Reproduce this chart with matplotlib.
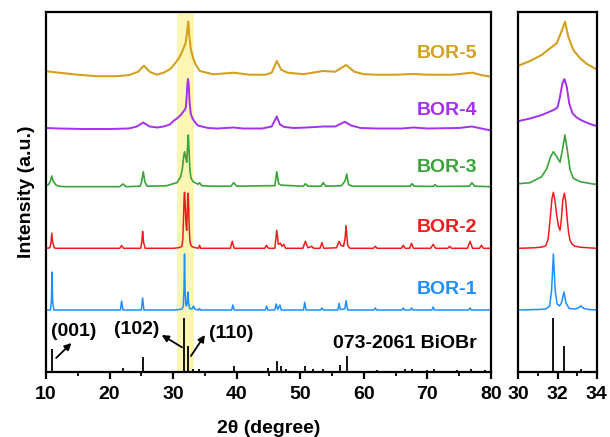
import matplotlib
matplotlib.use("Agg")
import matplotlib.pyplot as plt

plt.rcParams['font.family'] = ['Liberation Sans', 'DejaVu Sans']
plt.rcParams['font.weight'] = 'bold'
plt.rcParams['font.size'] = 14

# ---- data (2theta in degree, intensity in a.u. above each baseline) ----
names = ['BOR-1', 'BOR-2', 'BOR-3', 'BOR-4', 'BOR-5']
colors = ['#1E8FFF', '#F21B1B', '#3AA33A', '#A530F0', '#D4A020']
offsets = [62, 123.7, 185.3, 242.5, 295.3]
widths = [1.1, 1.1, 1.2, 1.4, 1.5]  # noisier patterns look thicker

bor1_x = [10.0, 10.7, 10.85, 10.95, 11.05, 11.25, 21.7, 21.9, 22.1, 25.0, 25.2, 25.4,
          30.0, 31.0, 31.4, 31.6, 31.7, 31.79, 31.88, 31.98, 32.1, 32.2, 32.33, 32.43,
          32.6, 32.9, 33.05, 33.2, 33.35, 33.6, 34.0, 34.15, 34.3, 39.2, 39.4, 39.6,
          44.5, 44.7, 44.9, 46.0, 46.2, 46.45, 46.8, 47.0, 50.5, 50.7, 50.9, 53.2, 53.4,
          53.6, 55.9, 56.1, 56.3, 57.0, 57.2, 57.45, 61.6, 61.8, 62.0, 66.0, 66.2, 66.4,
          67.3, 67.5, 67.7, 70.7, 70.9, 71.1, 76.5, 76.7, 76.9, 80.0]
bor1_y = [0, 0, 8, 38, 8, 0, 0, 9, 0, 0, 12, 0,
          0, 0.5, 1, 4, 20, 56, 20, 6, 4, 7, 18, 7,
          1.5, 1, 2, 4, 1.5, 0.5, 0, 1.5, 0, 0, 5, 0,
          0, 4, 0, 0, 6, 0.5, 5, 0, 0, 7.7, 0, 0, 2,
          0, 0, 6.7, 0.5, 1, 9.3, 0, 0, 2, 0, 0, 2, 0,
          0, 2, 0, 0, 3, 0, 0, 2, 0, 0]

bor2_x = [10.0, 10.6, 10.8, 10.9, 11.05, 11.3, 11.6, 21.6, 21.9, 22.2, 24.9, 25.1, 25.2,
          25.35, 25.6, 30.0, 30.8, 31.2, 31.4, 31.52, 31.62, 31.72, 31.79, 31.87, 31.96,
          32.05, 32.13, 32.2, 32.27, 32.35, 32.42, 32.5, 32.57, 32.64, 32.75, 32.9, 33.2,
          33.6, 34.0, 34.15, 34.35, 39.0, 39.3, 39.6, 44.4, 44.7, 45.0, 46.0, 46.3, 46.55,
          46.9, 47.1, 47.4, 47.7, 50.4, 50.8, 51.2, 51.8, 52.1, 53.1, 53.4, 53.7, 55.7,
          56.1, 56.4, 56.8, 57.05, 57.2, 57.45, 57.8, 61.5, 61.8, 62.1, 65.9, 66.2, 66.5,
          67.2, 67.5, 67.8, 70.5, 70.9, 71.3, 73.2, 73.5, 73.8, 76.3, 76.7, 77.1, 78.2,
          78.5, 78.8, 80.0]
bor2_y = [0, 0.5, 6, 15, 6, 0.5, 0, 0, 2.7, 0, 0, 8, 17,
          6, 0, 0, 0.5, 1.2, 2.5, 9, 28, 50, 56, 48, 33,
          22, 18, 30, 48, 55, 47, 28, 15, 8, 4, 2, 1,
          0.5, 0, 3, 0, 0, 7, 0, 0, 3, 0, 0, 18, 4,
          5, 2, 4, 0, 0, 7, 0.5, 2, 0, 0, 5.7, 0, 0.5,
          7, 3, 2, 10, 22.7, 3, 0, 0, 2, 0, 0, 3, 0,
          0, 5, 0, 0, 4, 0, 0, 2, 0, 0, 7, 0, 0,
          3, 0, 0]

bor3_x = [10.0, 10.4, 10.7, 10.9, 11.1, 11.5, 12.0, 13.0, 21.6, 22.1, 22.6, 24.8, 25.05,
          25.3, 25.55, 25.9, 29.0, 30.0, 30.6, 31.19, 31.45, 31.65, 31.79, 31.96, 32.13,
          32.25, 32.38, 32.5, 32.64, 32.81, 33.15, 33.9, 34.15, 34.5, 36.0, 39.1, 39.5,
          40.0, 44.7, 46.0, 46.3, 46.6, 47.0, 50.5, 50.8, 51.2, 53.3, 53.6, 54.0, 56.5,
          57.05, 57.3, 57.6, 58.2, 67.3, 67.6, 67.9, 70.9, 71.2, 71.5, 76.6, 77.0, 77.4,
          80.0]
bor3_y = [1, 2, 6, 10.7, 6, 2, 0.5, 0, 0, 2.7, 0, 0.5, 5,
          15, 5, 0.5, 1, 3, 4, 10, 18, 30, 35, 30, 24.4,
          36.7, 51.7, 36.7, 16.7, 8.4, 5, 2.4, 4, 1, 0.5, 0.5, 4,
          0.5, 1, 1, 15, 3, 1.5, 0.5, 3, 0.5, 0.5, 4, 0.5, 1,
          6, 12.7, 2, 0.5, 0.5, 3, 0.5, 0.3, 2, 0.3, 0.5, 4, 0.5,
          0]

bor4_x = [10.0, 12.0, 16.0, 20.0, 23.0, 24.3, 25.3, 26.3, 27.5, 28.5, 29.5, 30.09, 30.6,
          31.2, 31.5, 31.8, 32.0, 32.13, 32.25, 32.35, 32.47, 32.6, 32.77, 32.98, 33.24,
          33.6, 33.9, 34.5, 35.5, 37.0, 39.5, 41.0, 44.0, 45.5, 46.3, 46.8, 47.5, 49.0,
          51.0, 53.6, 55.5, 57.0, 58.0, 59.5, 62.0, 66.0, 67.8, 70.0, 75.0, 77.0, 78.5,
          80.0]
bor4_y = [1.5, 1, 0.5, 0.5, 1, 3, 7, 3, 2, 3, 5, 8.8, 11,
          14.5, 17, 19.5, 22, 33, 46, 50.5, 43, 26, 16, 12, 9,
          6, 4, 3, 1.5, 1, 2, 1, 1, 3, 13, 5, 2.5, 1.5,
          2, 3, 3, 7.7, 4, 1.5, 1, 1, 2, 1, 1.5, 3, 1,
          -1]

bor5_x = [10.0, 12.0, 15.0, 18.0, 21.0, 23.0, 24.5, 25.4, 26.3, 27.4, 28.5, 29.5, 30.09,
          30.6, 31.19, 31.62, 31.96, 32.2, 32.38, 32.55, 32.81, 33.15, 33.5, 33.9, 34.2,
          36.3, 39.5, 42.0, 44.5, 45.5, 46.3, 47.0, 48.0, 50.5, 53.6, 55.5, 57.2, 58.5,
          60.0, 62.0, 65.0, 67.8, 70.0, 74.0, 77.1, 78.5, 80.0]
bor5_y = [5.5, 4, 2, 0.5, 0.5, 1.5, 5, 11, 5, 2, 4, 7.5, 11.7,
          15.7, 21.7, 28.4, 33.4, 45, 55, 40, 26.7, 18.4, 12.7, 8.4, 5.7,
          2.4, 4, 2, 2, 4, 15.7, 7, 4, 2.5, 5.7, 5, 11.7, 5,
          2.5, 2, 2, 2.7, 2, 2, 4, 1.5, 0]

series_x = [bor1_x, bor2_x, bor3_x, bor4_x, bor5_x]
series_y = [bor1_y, bor2_y, bor3_y, bor4_y, bor5_y]

# standard card 073-2061 BiOBr
ref_pos = [10.9, 22.1, 25.2, 31.76, 32.32, 33.2, 34.1, 39.5, 44.9, 46.4, 47.0, 47.7, 50.8,
           52.0, 53.6, 56.3, 57.3, 62.0, 66.5, 67.6, 70.0, 71.0, 74.6, 76.8, 79.0]
ref_int = [22.7, 4, 14.7, 53.7, 26.3, 3, 3, 6, 4, 11.3, 6, 3, 6,
           3, 3, 7, 16, 2, 3, 3, 2, 3, 2, 3, 2]

fig = plt.figure(figsize=(6.1, 4.37), dpi=100)
ax1 = fig.add_axes([46 / 610, 65 / 437, 445 / 610, 360.5 / 437])
ax2 = fig.add_axes([518.3 / 610, 65 / 437, 78.4 / 610, 360.5 / 437])

ax1.axvspan(30.55, 33.3, color='#FBF6B4', lw=0, zorder=0)

for ax in (ax1, ax2):
    for x, y, off, c, w in zip(series_x, series_y, offsets, colors, widths):
        ax.plot(x, [v + off for v in y], color=c, lw=w, zorder=2, solid_joinstyle='round')
    ax.vlines(ref_pos, 0, ref_int, color='black', lw=1.3, zorder=2)
    ax.set_ylim(0, 360.5)
    ax.set_yticks([])
    for s in ax.spines.values():
        s.set_linewidth(1.6)
    ax.tick_params(axis='x', which='major', direction='out', length=5, width=1.6, labelsize=14, pad=5)
    ax.tick_params(axis='x', which='minor', direction='out', length=3, width=1.3)

ax1.set_xlim(10, 80)
ax1.set_xticks(range(10, 81, 10))
ax1.set_xticks(range(15, 80, 10), minor=True)
ax2.set_xlim(30, 34)
ax2.set_xticks([30, 32, 34])
ax2.set_xticks([31, 33], minor=True)

label_y = [82, 145, 205, 262, 319]
for n, c, ly in zip(names, colors, label_y):
    ax1.text(77.8, ly, n, color=c, ha='right', va='center', fontsize=14, fontweight='bold')
ax1.text(77.8, 29, '073-2061 BiOBr', color='black', ha='right', va='center', fontsize=14, fontweight='bold')

arrow = dict(arrowstyle='-|>', color='black', lw=1.3, mutation_scale=10, shrinkA=0, shrinkB=0)
ax1.annotate('', xy=(14.0, 29), xytext=(11.6, 14), arrowprops=arrow)
ax1.annotate('', xy=(28.2, 37), xytext=(31.4, 24.7), arrowprops=arrow)
ax1.annotate('', xy=(35.0, 37), xytext=(32.8, 16), arrowprops=arrow)
ax1.text(14.3, 41, '(001)', ha='center', va='center', fontsize=14, fontweight='bold')
ax1.text(24.2, 42, '(102)', ha='center', va='center', fontsize=14, fontweight='bold')
ax1.text(39.1, 39, '(110)', ha='center', va='center', fontsize=14, fontweight='bold')

ax1.set_xlabel('2θ (degree)', fontsize=14, fontweight='bold', labelpad=12)
ax1.set_ylabel('Intensity (a.u.)', fontsize=14, fontweight='bold', labelpad=8)

fig.savefig('out.png', dpi=100)
